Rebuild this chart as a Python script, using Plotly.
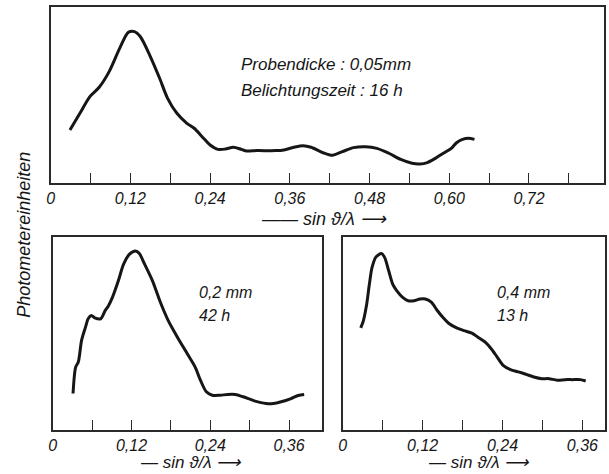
import plotly.graph_objects as go

# Photometer traces: intensity (Photometereinheiten) against sin(theta)/lambda
# Sample 0.05 mm, 16 h exposure
x_005 = [0.029, 0.044, 0.059, 0.073, 0.088, 0.105, 0.117, 0.126, 0.135, 0.149,
         0.164, 0.176, 0.190, 0.205, 0.216, 0.228, 0.240, 0.252, 0.263, 0.275,
         0.287, 0.295, 0.310, 0.339, 0.351, 0.366, 0.380, 0.392, 0.410, 0.424,
         0.439, 0.456, 0.474, 0.491, 0.509, 0.527, 0.544, 0.556, 0.567, 0.579,
         0.591, 0.603, 0.611, 0.620, 0.629, 0.638]
y_005 = [30.1, 39.6, 49.1, 54.4, 63.3, 77.5, 85.6, 86.0, 83.1, 72.7,
         59.5, 48.1, 39.6, 33.9, 31.1, 26.3, 21.6, 19.1, 19.3, 20.3,
         19.1, 18.2, 18.4, 18.4, 18.8, 20.3, 21.2, 20.3, 17.2, 15.7,
         17.8, 20.1, 20.6, 19.7, 16.9, 13.4, 11.2, 10.8, 11.6, 14.0,
         16.9, 19.7, 22.9, 24.8, 25.4, 24.8]

# Sample 0.2 mm, 42 h exposure
x_02 = [0.031, 0.035, 0.039, 0.044, 0.050, 0.054, 0.059, 0.064, 0.073, 0.080,
        0.085, 0.091, 0.100, 0.108, 0.117, 0.126, 0.132, 0.140, 0.152, 0.164,
        0.176, 0.190, 0.205, 0.217, 0.225, 0.234, 0.243, 0.255, 0.266, 0.278,
        0.290, 0.307, 0.325, 0.336, 0.348, 0.363, 0.374, 0.383]
y_02 = [18.9, 32.6, 35.2, 46.4, 53.3, 57.6, 59.3, 58.1, 57.6, 61.9,
        64.4, 68.7, 77.3, 85.9, 91.1, 92.8, 91.4, 85.9, 77.3, 66.2,
        56.7, 48.1, 39.5, 32.6, 25.8, 19.8, 18.0, 18.0, 18.4, 18.4,
        17.2, 15.1, 13.7, 13.7, 14.6, 16.3, 17.9, 18.4]

# Sample 0.4 mm, 13 h exposure
x_04 = [0.027, 0.031, 0.036, 0.040, 0.044, 0.050, 0.058, 0.063, 0.069, 0.075,
        0.081, 0.090, 0.098, 0.107, 0.116, 0.124, 0.133, 0.142, 0.151, 0.159,
        0.171, 0.182, 0.194, 0.203, 0.214, 0.223, 0.232, 0.241, 0.252, 0.264,
        0.275, 0.287, 0.299, 0.310, 0.322, 0.334, 0.345, 0.357, 0.365]
y_04 = [52.9, 56.7, 65.3, 75.6, 84.2, 89.7, 91.4, 89.3, 82.5, 75.6,
        72.2, 68.7, 67.0, 67.0, 67.9, 67.9, 66.2, 61.9, 58.1, 55.3,
        52.9, 51.5, 50.2, 48.1, 45.5, 42.1, 37.8, 33.5, 31.3, 30.1,
        28.9, 27.5, 26.6, 26.6, 25.8, 26.1, 26.1, 26.1, 25.4]

tick_top = [0.06 * i for i in range(14)]
label_top = ["0", "", "0,12", "", "0,24", "", "0,36", "", "0,48", "", "0,60", "", "0,72", ""]
tick_bot = [0.06 * i for i in range(7)]
label_bot = ["0", "", "0,12", "", "0,24", "", "0,36"]

FONT = "Liberation Sans, Arial, sans-serif"
INK = "#161616"
FRAME = "#2a2a2a"

fig = go.Figure()
for xs, ys, ax in [(x_005, y_005, ("x", "y")), (x_02, y_02, ("x2", "y2")), (x_04, y_04, ("x3", "y3"))]:
    fig.add_trace(go.Scatter(
        x=xs, y=ys, xaxis=ax[0], yaxis=ax[1], mode="lines",
        line=dict(color=INK, width=3, shape="spline", smoothing=0.8),
        showlegend=False, hoverinfo="skip"))


def xaxis(domain, rng, vals, labels, anchor):
    return dict(domain=domain, range=rng, anchor=anchor,
                showline=True, mirror=True, linecolor=FRAME, linewidth=1.6,
                showgrid=False, zeroline=False,
                ticks="inside", ticklen=10, tickwidth=1.4, tickcolor=FRAME,
                tickvals=vals, ticktext=["<i>%s</i>" % t if t else "" for t in labels],
                tickfont=dict(family=FONT, size=16, color=INK), ticklabelstandoff=0)


def yaxis(domain, anchor):
    return dict(domain=domain, range=[0, 100], anchor=anchor,
                showline=True, mirror=True, linecolor=FRAME, linewidth=1.6,
                showgrid=False, zeroline=False, showticklabels=False, ticks="")


W, H = 609, 474
top_y = [1 - 183 / H, 1 - 7 / H]
bot_y = [1 - 430 / H, 1 - 237 / H]

fig.update_layout(
    width=W, height=H, margin=dict(l=0, r=0, t=0, b=0),
    paper_bgcolor="white", plot_bgcolor="white",
    xaxis=xaxis([47 / W, 604 / W], [0, 0.833], tick_top, label_top, "y"),
    yaxis=yaxis(top_y, "x"),
    xaxis2=xaxis([49 / W, 320 / W], [0, 0.41], tick_bot, label_bot, "y2"),
    yaxis2=yaxis(bot_y, "x2"),
    xaxis3=xaxis([341 / W, 605 / W], [0, 0.394], tick_bot, label_bot, "y3"),
    yaxis3=yaxis(bot_y, "x3"),
)


def text(x, y, s, size=16, angle=0, anchor="left"):
    fig.add_annotation(x=x / W, y=1 - y / H, xref="paper", yref="paper",
                       text="<i>%s</i>" % s, showarrow=False, textangle=angle,
                       xanchor=anchor, yanchor="middle",
                       font=dict(family=FONT, size=size, color=INK))


text(237, 64, "Probendicke : 0,05mm", size=17)
text(237, 90, "Belichtungszeit : 16 h", size=17)
text(194, 292, "0,2 mm")
text(194, 315, "42 h")
text(494, 292, "0,4 mm")
text(494, 315, "13 h")

text(322, 219, "—— sin ϑ/λ ⟶", size=18, anchor="center")
text(188, 462, "— sin ϑ/λ ⟶", size=17, anchor="center")
text(478, 462, "— sin ϑ/λ ⟶", size=17, anchor="center")

text(20, 235, "Photometereinheiten", size=18, angle=-90, anchor="center")

fig.write_html("out.html")
